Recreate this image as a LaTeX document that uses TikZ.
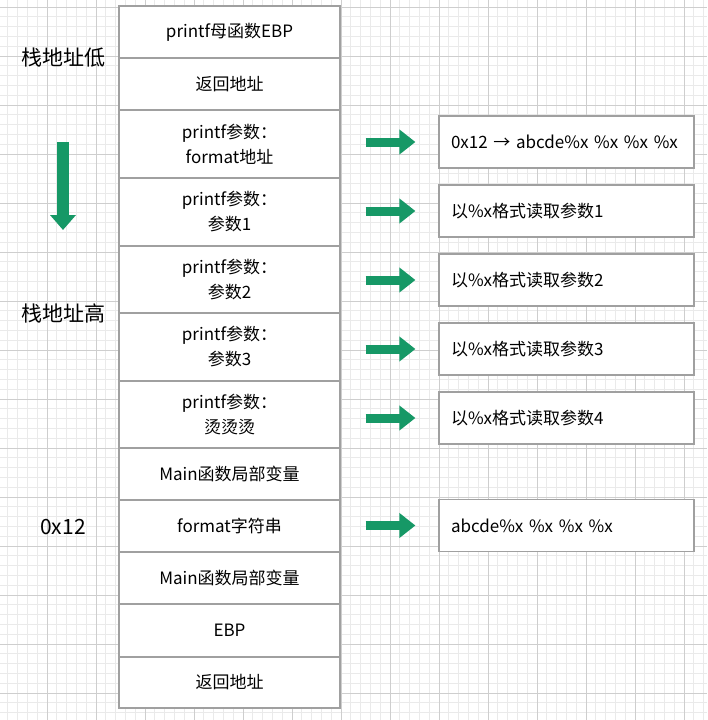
\documentclass[tikz,border=0pt]{standalone}
\usepackage{fontspec}
\setmainfont{Noto Sans CJK SC}
\usetikzlibrary{calc,arrows.meta}
\definecolor{stackgreen}{RGB}{22,152,102}
\definecolor{gridminor}{RGB}{234,234,234}
\definecolor{gridmajor}{RGB}{206,206,206}
\definecolor{cellgray}{RGB}{160,160,160}

\begin{document}
\begin{tikzpicture}[x=1pt,y=-1pt,
  cell/.style={draw=cellgray,line width=1.2pt,fill=white,minimum width=221pt,inner sep=0pt,align=center,font=\fontsize{17}{25}\selectfont},
  note/.style={draw=cellgray,line width=1.2pt,fill=white,minimum height=52pt,inner xsep=12pt,inner ysep=0pt,text width=231pt,align=left,font=\fontsize{17}{25}\selectfont},
  side/.style={font=\fontsize{21}{25}\selectfont},
  push/.style={stackgreen,line width=9pt,-{Triangle[width=24pt,length=16pt]}}]
\useasboundingbox (0,0) rectangle (707,720);
\fill[white] (0,0) rectangle (707,720);

%grid
\foreach \i in {0,...,73}
   \draw[gridminor,line width=0.8pt] ({-2+9.8*\i},0) -- ({-2+9.8*\i},720);
\foreach \j in {-1,...,73}
   \draw[gridminor,line width=0.8pt] (0,{7+9.8*\j}) -- (707,{7+9.8*\j});
\foreach \i in {0,...,15}
   \draw[gridmajor,line width=1pt] ({-2+49*\i},0) -- ({-2+49*\i},720);
\foreach \j in {0,...,14}
   \draw[gridmajor,line width=1pt] (0,{7+49*\j}) -- (707,{7+49*\j});

%stack
\node[cell,minimum height=52pt] (r1) at (229.5,32) {printf母函数EBP};
\node[cell,minimum height=52pt] (r2) at (229.5,84) {返回地址};
\node[cell,minimum height=68pt] (r3) at (229.5,144) {printf参数：\\format地址};
\node[cell,minimum height=68pt] (r4) at (229.5,212) {printf参数：\\参数1};
\node[cell,minimum height=67pt] (r5) at (229.5,279.5) {printf参数：\\参数2};
\node[cell,minimum height=68pt] (r6) at (229.5,347) {printf参数：\\参数3};
\node[cell,minimum height=67pt] (r7) at (229.5,414.5) {printf参数：\\烫烫烫};
\node[cell,minimum height=52pt] (r8) at (229.5,474) {Main函数局部变量};
\node[cell,minimum height=52pt] (r9) at (229.5,526) {format字符串};
\node[cell,minimum height=52pt] (r10) at (229.5,578) {Main函数局部变量};
\node[cell,minimum height=53pt] (r11) at (229.5,630.5) {EBP};
\node[cell,minimum height=51pt] (r12) at (229.5,682.5) {返回地址};

%what printf reads
\node[note] (b3) at (566.5,142) {0x12 → abcde\%x \%x \%x \%x};
\node[note] (b4) at (566.5,211) {以\%x格式读取参数1};
\node[note] (b5) at (566.5,280) {以\%x格式读取参数2};
\node[note] (b6) at (566.5,349) {以\%x格式读取参数3};
\node[note] (b7) at (566.5,418) {以\%x格式读取参数4};
\node[note] (b9) at (566.5,525.5) {abcde\%x \%x \%x \%x};

\foreach \r/\b in {r3/b3,r4/b4,r5/b5,r6/b6,r7/b7,r9/b9}
   \draw[push] ($(\b.west -| \r.east)+(25,0)$) -- ($(\b.west)+(-23,0)$);

%Labeling addresses
\node[side] (lo) at (63,58) {栈地址低};
\node[side] (hi) at (63,313) {栈地址高};
\node[side] (addr) at (63,527) {0x12};
\draw[push,line width=12pt,-{Triangle[width=25pt,length=15pt]}] ($(lo)+(0,84)$) -- ($(lo)+(0,172)$);
\end{tikzpicture}
\end{document}
